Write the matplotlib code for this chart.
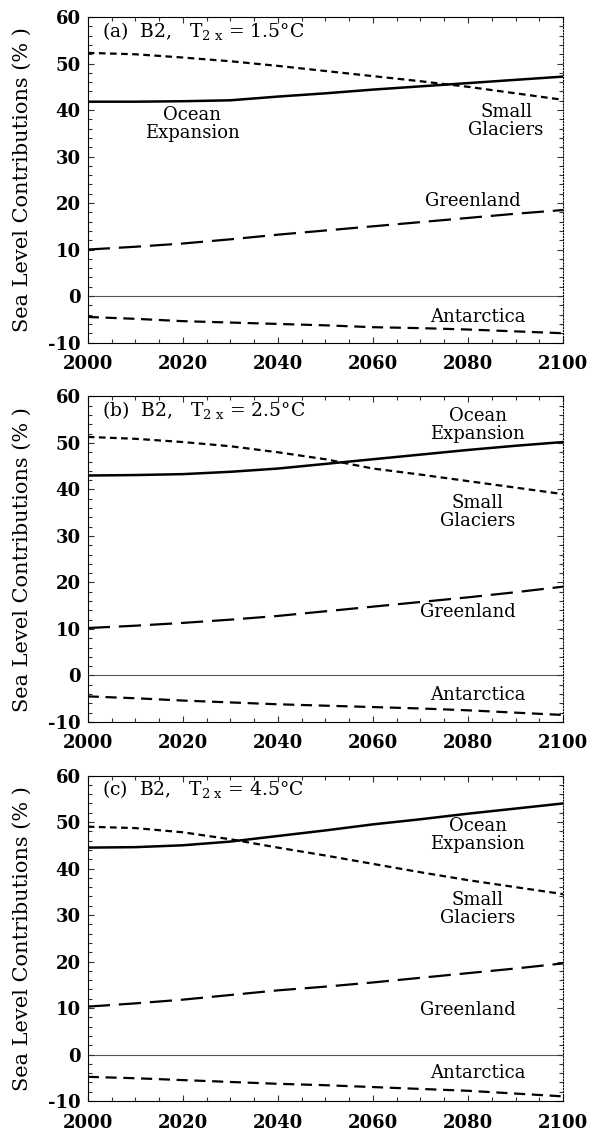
import matplotlib
matplotlib.use("Agg")
import matplotlib.pyplot as plt
from matplotlib.ticker import MultipleLocator

plt.rcParams['font.family'] = ['DejaVu Serif']
plt.rcParams['mathtext.fontset'] = 'dejavuserif'
plt.rcParams['axes.unicode_minus'] = False

# years sampled along each curve
years = [2000, 2010, 2020, 2030, 2040, 2050, 2060, 2070, 2080, 2090, 2100]

# (a) T2x = 1.5 C
ocean_a = [41.8, 41.8, 41.9, 42.1, 42.9, 43.6, 44.4, 45.1, 45.8, 46.5, 47.2]
glac_a = [52.3, 52.0, 51.3, 50.5, 49.5, 48.4, 47.3, 46.2, 45.0, 43.6, 42.2]
green_a = [10.0, 10.6, 11.3, 12.2, 13.2, 14.1, 15.0, 15.9, 16.8, 17.7, 18.5]
ant_a = [-4.5, -4.9, -5.4, -5.7, -6.0, -6.3, -6.7, -6.9, -7.2, -7.6, -8.0]

# (b) T2x = 2.5 C
ocean_b = [43.0, 43.1, 43.3, 43.8, 44.5, 45.5, 46.5, 47.5, 48.5, 49.4, 50.2]
glac_b = [51.3, 50.9, 50.2, 49.3, 48.0, 46.5, 44.5, 43.2, 41.8, 40.4, 39.0]
green_b = [10.2, 10.7, 11.3, 12.0, 12.8, 13.8, 14.8, 15.8, 16.8, 17.9, 19.1]
ant_b = [-4.5, -4.9, -5.4, -5.8, -6.2, -6.5, -6.8, -7.1, -7.5, -8.0, -8.5]

# (c) T2x = 4.5 C
ocean_c = [44.5, 44.6, 45.0, 45.8, 47.0, 48.2, 49.5, 50.6, 51.8, 52.9, 54.0]
glac_c = [49.0, 48.7, 47.8, 46.3, 44.5, 42.8, 41.0, 39.2, 37.5, 36.0, 34.5]
green_c = [10.3, 11.0, 11.8, 12.8, 13.8, 14.6, 15.5, 16.5, 17.5, 18.5, 19.6]
ant_c = [-4.8, -5.1, -5.5, -5.9, -6.3, -6.6, -7.0, -7.4, -7.8, -8.4, -9.0]

panels = [
    ("(a)", "1.5", ocean_a, glac_a, green_a, ant_a),
    ("(b)", "2.5", ocean_b, glac_b, green_b, ant_b),
    ("(c)", "4.5", ocean_c, glac_c, green_c, ant_c),
]

# label positions (year, value) per panel: ocean, glaciers, greenland, antarctica
label_pos = [
    [(2022, 37.0), (2088, 37.7), (2081, 20.4), (2082, -4.5)],
    [(2082, 53.8), (2082, 35.2), (2080, 13.7), (2082, -4.3)],
    [(2082, 47.3), (2082, 31.3), (2080, 9.6), (2082, -4.0)],
]

fig = plt.figure(figsize=(5.89, 11.38), dpi=100)
left, width = 0.149, 0.807
bottoms = [0.699, 0.3656, 0.0325]
height = 0.286

for i, (tag, t2x, ocean, glac, green, ant) in enumerate(panels):
    ax = fig.add_axes([left, bottoms[i], width, height])
    ax.axhline(0, color='#555555', lw=0.8, zorder=1)
    ax.plot(years, ocean, 'k-', lw=1.8)
    ax.plot(years, glac, color='k', lw=1.6, dashes=(3, 2))
    ax.plot(years, green, color='k', lw=1.6, dashes=(10, 4))
    ax.plot(years, ant, color='k', lw=1.6, dashes=(5, 3))

    ax.set_xlim(2000, 2100)
    ax.set_ylim(-10, 60)
    ax.xaxis.set_major_locator(MultipleLocator(20))
    ax.xaxis.set_minor_locator(MultipleLocator(5))
    ax.yaxis.set_major_locator(MultipleLocator(10))
    ax.yaxis.set_minor_locator(MultipleLocator(2))
    ax.tick_params(which='both', direction='in', top=True, right=True,
                   width=0.8, color='#333333')
    ax.tick_params(which='major', length=4.5, labelsize=13)
    ax.tick_params(axis='x', which='major', pad=9)
    ax.tick_params(axis='y', which='major', pad=5)
    ax.tick_params(which='minor', length=3)
    for lab in ax.get_xticklabels() + ax.get_yticklabels():
        lab.set_fontweight('bold')
    ax.spines['right'].set_linestyle(':')
    for s in ax.spines.values():
        s.set_linewidth(0.8)

    ax.set_ylabel('Sea Level Contributions (% )', fontsize=15, labelpad=12)

    ax.text(2003, 57.0, tag + '  B2,   T$_{2\\ \\mathrm{x}}$ = ' + t2x + '°C',
            fontsize=13.5, ha='left', va='center')

    pos = label_pos[i]
    ax.text(pos[0][0], pos[0][1], 'Ocean\nExpansion', fontsize=13,
            ha='center', va='center', linespacing=1.0)
    ax.text(pos[1][0], pos[1][1], 'Small\nGlaciers', fontsize=13,
            ha='center', va='center', linespacing=1.0)
    ax.text(pos[2][0], pos[2][1], 'Greenland', fontsize=13,
            ha='center', va='center')
    ax.text(pos[3][0], pos[3][1], 'Antarctica', fontsize=13,
            ha='center', va='center')

fig.savefig('out.png', dpi=100)
